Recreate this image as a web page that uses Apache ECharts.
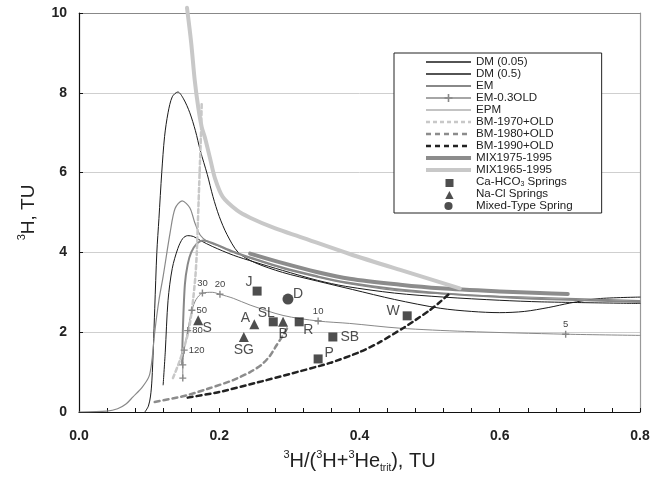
<!DOCTYPE html>
<html><head><meta charset="utf-8">
<script src="https://cdn.jsdelivr.net/npm/echarts@6/dist/echarts.min.js"></script>
<style>html,body{margin:0;padding:0;background:#fff}#c{width:665px;height:485px}</style>
</head><body><div id="c"></div>
<script>
// ---- data ----
const xRange = [0, 0.8];
const yRange = [0, 10];

const dm005 = [[0.094,0],[0.099,0.15],[0.102,0.4],[0.104,0.8],[0.106,1.6],[0.108,2.6],[0.111,4.0],[0.114,4.85],[0.118,6.0],[0.122,6.9],[0.127,7.5],[0.133,7.9],[0.141,8.02],[0.149,7.85],[0.158,7.5],[0.166,7.05],[0.173,6.55],[0.183,5.95],[0.191,5.4],[0.2,4.9],[0.211,4.45],[0.227,4.0],[0.25,3.75],[0.29,3.5],[0.34,3.28],[0.39,3.07],[0.45,2.82],[0.515,2.6],[0.56,2.52],[0.6,2.49],[0.635,2.52],[0.67,2.62],[0.7,2.73],[0.74,2.84],[0.8,2.88]];
const dm05 = [[0.12,0.68],[0.123,1.5],[0.127,2.8],[0.133,3.6],[0.141,4.1],[0.148,4.35],[0.155,4.42],[0.163,4.4],[0.173,4.3],[0.19,4.15],[0.22,3.93],[0.25,3.76],[0.29,3.55],[0.34,3.3],[0.38,3.15],[0.45,2.98],[0.52,2.88],[0.6,2.8],[0.66,2.76],[0.8,2.72]];
const em = [[0.147,1.2],[0.148,2.0],[0.151,3.2],[0.155,3.7],[0.16,4.0],[0.168,4.22],[0.177,4.3],[0.19,4.24],[0.22,4.02],[0.25,3.84],[0.29,3.62],[0.34,3.4],[0.38,3.25],[0.45,3.08],[0.52,2.97],[0.6,2.88],[0.66,2.83],[0.8,2.76]];
const emOld = [[0.148,0.85],[0.148,1.18],[0.150,1.55],[0.155,2.04],[0.161,2.55],[0.167,2.82],[0.176,2.98],[0.19,3.0],[0.201,2.95],[0.22,2.85],[0.244,2.68],[0.291,2.42],[0.341,2.28],[0.386,2.22],[0.458,2.1],[0.55,2.02],[0.694,1.95],[0.8,1.92]];
const emOldAges = ['', '', '120', '80', '50', null, '30', null, '20', null, null, null, '10', null, null, null, '5', null];
const epm = [[0,0],[0.04,0.02],[0.055,0.08],[0.067,0.2],[0.077,0.38],[0.09,0.62],[0.1,0.9],[0.104,1.3],[0.108,2.0],[0.114,2.8],[0.12,3.4],[0.13,4.5],[0.137,5.1],[0.147,5.29],[0.158,5.12],[0.165,4.75],[0.173,4.43],[0.184,4.26],[0.2,4.15],[0.22,4.0],[0.25,3.82],[0.29,3.6],[0.34,3.38],[0.38,3.23],[0.45,3.05],[0.52,2.96],[0.6,2.9],[0.66,2.87],[0.8,2.79]];
const bm1970 = [[0.134,0.85],[0.144,1.3],[0.156,2.0],[0.162,2.7],[0.166,3.4],[0.168,4.0],[0.17,5.0],[0.172,6.0],[0.174,7.0],[0.175,7.75]];
const bm1980 = [[0.108,0.25],[0.15,0.4],[0.187,0.6],[0.22,0.8],[0.244,1.0],[0.26,1.18],[0.272,1.4],[0.282,1.68],[0.29,1.9],[0.297,2.1]];
const bm1990 = [[0.155,0.36],[0.2,0.5],[0.25,0.72],[0.3,0.95],[0.358,1.23],[0.4,1.5],[0.429,1.75],[0.462,2.1],[0.476,2.26],[0.5,2.55],[0.515,2.76],[0.527,2.95]];
const mix1975 = [[0.244,3.97],[0.291,3.73],[0.339,3.51],[0.386,3.34],[0.458,3.19],[0.515,3.1],[0.6,3.02],[0.657,2.98],[0.697,2.96]];
const mix1965 = [[0.154,10.13],[0.16,9.25],[0.165,8.32],[0.17,7.64],[0.175,7.14],[0.18,6.85],[0.187,6.35],[0.194,5.85],[0.205,5.39],[0.225,5.06],[0.244,4.87],[0.28,4.6],[0.315,4.39],[0.386,3.96],[0.458,3.56],[0.543,3.1]];

const caHco3 = [[0.254,3.03,'J'],[0.277,2.26,'SL'],[0.314,2.26,'R'],[0.362,1.88,'SB'],[0.341,1.33,'P'],[0.468,2.41,'W']];
const naCl = [[0.17,2.3,'S'],[0.25,2.2,'A'],[0.235,1.88,'SG'],[0.291,2.26,'B']];
const mixed = [[0.298,2.83,'D']];

const seriesNames = ['DM (0.05)','DM (0.5)','EM','EM-0.3OLD','EPM','BM-1970+OLD','BM-1980+OLD','BM-1990+OLD','MIX1975-1995','MIX1965-1995','Ca-HCO3 Springs','Na-Cl Springs','Mixed-Type Spring'];

// ---- styling ----
const FONT = 'Liberation Sans, Arial, Helvetica, sans-serif';
const labelOffset = {J:[-8,-9], SL:[-7,-9], R:[9,8], SB:[17,0], P:[11,-6], W:[-14,-5], S:[9,8], A:[-9,-6], SG:[0,13], B:[0,12], D:[10,-5]};
const agePos = {'120':'right','80':'right','50':'right'};
const PLUS = 'path://M4,0h2v4h4v2h-4v4h-2v-4h-4v-2h4z';
const legendIcons = {
  'Ca-HCO3 Springs': 'path://M-1,-1L-1,-1M1,1h8v8h-8z',
  'Na-Cl Springs': 'path://M-1,-1L-1,-1M5,1L9.2,9H0.8z',
  'Mixed-Type Spring': 'path://M-0.5,-0.5L-0.5,-0.5M10.5,10.5L10.5,10.5M5,0.5A4.5,4.5,0,1,1,4.99,0.5z'
};

function lineSeries(name, data, color, width, type, extra) {
  return Object.assign({
    name, type: 'line', data, symbol: 'none', showSymbol: false, smooth: 0.3,
    lineStyle: {color, width, type: type || 'solid', cap: 'round', join: 'round'},
    itemStyle: {color}, z: 2, silent: true
  }, extra || {});
}
function scatterSeries(name, pts, symbol, size) {
  return {
    name, type: 'scatter', symbol, symbolSize: size, z: 5,
    itemStyle: {color: '#222'},
    label: {show: true, position: 'inside', formatter: '{b}', fontSize: 14, color: '#222', fontFamily: FONT, textBorderWidth: 0},
    data: pts.map(p => ({name: p[2], value: [p[0], p[1]], label: {offset: labelOffset[p[2]]}}))
  };
}

const emOldData = emOld.map((p, i) => {
  const a = emOldAges[i];
  if (a === null) return {value: p, symbol: 'none'};
  return {value: p, label: {show: a !== '', formatter: a, position: agePos[a] || 'top', distance: 1, fontSize: 9.5, color: '#444', fontFamily: FONT}};
});

const series = [
  lineSeries('DM (0.05)', dm005, '#1a1a1a', 1),
  lineSeries('DM (0.5)', dm05, '#1a1a1a', 1),
  lineSeries('EM', em, '#888', 2),
  lineSeries('EM-0.3OLD', emOldData, '#888', 1, 'solid', {symbol: PLUS, symbolSize: 7, showSymbol: true, showAllSymbol: true}),
  lineSeries('EPM', epm, '#888', 1.2),
  lineSeries('BM-1970+OLD', bm1970, '#c8c8c8', 2.5, [4,3], {smooth: 0.2}),
  lineSeries('BM-1980+OLD', bm1980, '#8c8c8c', 2.5, [5,4], {smooth: 0.2}),
  lineSeries('BM-1990+OLD', bm1990, '#222', 2.5, [5,4], {smooth: 0.2}),
  lineSeries('MIX1975-1995', mix1975, '#8c8c8c', 4, 'solid', {z: 1}),
  lineSeries('MIX1965-1995', mix1965, '#c8c8c8', 4, 'solid', {z: 1, clip: false}),
  scatterSeries('Ca-HCO3 Springs', caHco3, 'rect', 9),
  scatterSeries('Na-Cl Springs', naCl, 'triangle', 10),
  scatterSeries('Mixed-Type Spring', mixed, 'circle', 11)
];

const legendData = seriesNames.map((n, i) => {
  if (legendIcons[n]) return {name: n, icon: legendIcons[n]};
  const s = series[i];
  const w = s.lineStyle.width === 1 ? 1.3 : s.lineStyle.width;
  const item = {name: n, lineStyle: {width: w, type: s.lineStyle.type, color: s.lineStyle.color, cap: 'butt'}};
  if (n !== 'EM-0.3OLD') item.itemStyle = {opacity: 0};
  return item;
});

const option = {
  animation: false,
  backgroundColor: '#fff',
  grid: {left: 79, right: 25, top: 13, bottom: 73, containLabel: false},
  xAxis: [{
    type: 'value', min: xRange[0], max: xRange[1], interval: 0.2,
    axisLine: {show: true, onZero: false, lineStyle: {color: '#111', width: 1.2}},
    axisTick: {show: true, inside: true, length: 4, lineStyle: {color: '#111'}},
    minorTick: {show: true, splitNumber: 5, length: 4, lineStyle: {color: '#111'}},
    splitLine: {show: false},
    axisLabel: {margin: 17, fontSize: 14, fontWeight: 'bold', color: '#222', fontFamily: FONT, formatter: v => v.toFixed(1)},
    name: '{sup|3}H/({sup|3}H+{sup|3}He{sub|trit}), TU', nameLocation: 'middle', nameGap: 37,
    nameTextStyle: {fontSize: 20, fontFamily: FONT, color: '#222', lineHeight: 24,
      rich: {sup: {fontSize: 11, lineHeight: 12, verticalAlign: 'top', fontFamily: FONT, color: '#222'},
             sub: {fontSize: 10, lineHeight: 10, verticalAlign: 'bottom', fontFamily: FONT, color: '#222'}}}
  }, {
    type: 'value', position: 'top', min: xRange[0], max: xRange[1],
    axisLine: {show: true, onZero: false, lineStyle: {color: '#888', width: 1.2}},
    axisTick: {show: false}, axisLabel: {show: false}, splitLine: {show: false}
  }],
  yAxis: [{
    type: 'value', min: yRange[0], max: yRange[1], interval: 2,
    axisLine: {show: true, onZero: false, lineStyle: {color: '#111', width: 1.2}},
    axisTick: {show: true, inside: true, length: 4, lineStyle: {color: '#111'}},
    splitLine: {show: true, lineStyle: {color: '#cfcfcf', width: 1}},
    axisLabel: {margin: 12, fontSize: 14, fontWeight: 'bold', color: '#222', fontFamily: FONT},
    name: '{sup|3}H, TU', nameLocation: 'middle', nameGap: 32,
    nameTextStyle: {fontSize: 19, fontFamily: FONT, color: '#222', lineHeight: 24,
      rich: {sup: {fontSize: 11, lineHeight: 12, verticalAlign: 'top', fontFamily: FONT, color: '#222'}}}
  }, {
    type: 'value', position: 'right', min: yRange[0], max: yRange[1],
    axisLine: {show: true, onZero: false, lineStyle: {color: '#999', width: 1.2}},
    axisTick: {show: false}, axisLabel: {show: false}, splitLine: {show: false}
  }],
  legend: {
    orient: 'vertical', left: 394, top: 53, data: legendData,
    itemWidth: 45, itemHeight: 10, itemGap: 0,
    padding: [3, 29, 1, 30],
    backgroundColor: '#fff', borderColor: '#222', borderWidth: 1,
    selectedMode: false,
    formatter: n => n === 'Ca-HCO3 Springs' ? 'Ca-HCO{sub|3} Springs' : n,
    textStyle: {fontSize: 11.6, lineHeight: 11.6, color: '#222', fontFamily: FONT,
      rich: {sub: {fontSize: 7, lineHeight: 6, verticalAlign: 'bottom', fontFamily: FONT, color: '#222'}}}
  },
  series
};
echarts.init(document.getElementById('c')).setOption(option);
</script>
</body></html>
